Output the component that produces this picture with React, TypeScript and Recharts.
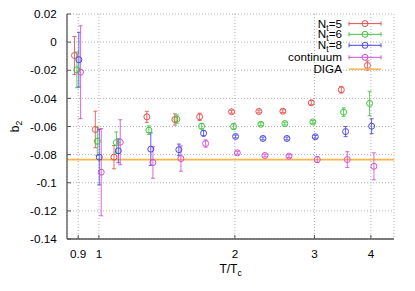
import React from 'react';
import { ComposedChart, Scatter, XAxis, YAxis, CartesianGrid, ErrorBar, ReferenceLine } from 'recharts';

// ---- data ----
const nt5T = [0.883, 0.982, 1.08, 1.277, 1.473, 1.671, 1.967, 2.26, 2.554, 2.952, 3.44, 3.93];
const nt5B2 = [-0.0095, -0.0621, -0.0818, -0.0531, -0.055, -0.0531, -0.0495, -0.0493, -0.0491, -0.0431, -0.0339, -0.0166];
const nt5Err = [0.0135, 0.013, 0.0083, 0.0039, 0.004, 0.0026, 0.001, 0.001, 0.001, 0.0015, 0.0023, 0.0033];

const nt6T = [0.894, 0.992, 1.093, 1.29, 1.488, 1.688, 1.987, 2.283, 2.58, 2.976, 3.481, 3.974];
const nt6B2 = [-0.0197, -0.0705, -0.0714, -0.0626, -0.0548, -0.0598, -0.06, -0.0584, -0.0579, -0.0567, -0.0498, -0.0436];
const nt6Err = [0.0127, 0.01, 0.0075, 0.003, 0.003, 0.002, 0.002, 0.001, 0.001, 0.001, 0.003, 0.0087];

const nt8T = [0.903, 1.002, 1.104, 1.303, 1.503, 1.705, 2.007, 2.307, 2.607, 3.013, 3.516, 4.015];
const nt8B2 = [-0.0125, -0.0818, -0.0773, -0.0761, -0.0765, -0.0648, -0.0671, -0.0685, -0.0685, -0.0673, -0.0636, -0.0598];
const nt8Err = [0.0195, 0.0197, 0.0085, 0.0116, 0.004, 0.002, 0.001, 0.001, 0.001, 0.001, 0.0036, 0.0053];

const contT = [0.911, 1.012, 1.115, 1.317, 1.519, 1.723, 2.025, 2.33, 2.634, 3.044, 3.547, 4.062];
const contB2 = [-0.0214, -0.0925, -0.0712, -0.0856, -0.0828, -0.0721, -0.0787, -0.0806, -0.0811, -0.0835, -0.0835, -0.0883];
const contErr = [0.033, 0.031, 0.016, 0.0112, 0.009, 0.0026, 0.001, 0.001, 0.001, 0.0021, 0.0056, 0.0096];

const digaValue = -0.0835;

const xTicks = [0.9, 1, 2, 3, 4];
const yTicks = [-0.14, -0.12, -0.1, -0.08, -0.06, -0.04, -0.02, 0, 0.02];
const xDomain = [0.85, 4.5];
const yDomain = [-0.14, 0.02];

// ---- styling ----
const FONT = '"Liberation Sans", Arial, Helvetica, sans-serif';
const FS = 11.7;
const RED = '#e5504f';
const GREEN = '#3fc43f';
const BLUE = '#4848e4';
const MAGENTA = '#d24fd2';
const ORANGE = '#fbb448';
const AXIS = '#555555';
const GRID = '#b0b0b0';

const build = (T: number[], b2: number[], err: number[]) => T.map((t, i) => ({ T: t, b2: b2[i], err: err[i] }));

const series = [
  { name: 'Nt=5', data: build(nt5T, nt5B2, nt5Err), color: RED },
  { name: 'Nt=6', data: build(nt6T, nt6B2, nt6Err), color: GREEN },
  { name: 'Nt=8', data: build(nt8T, nt8B2, nt8Err), color: BLUE },
  { name: 'continuum', data: build(contT, contB2, contErr), color: MAGENTA },
];

const circleShape = (color: string) => (props: any) => (
  <circle cx={props.cx} cy={props.cy} r={3} fill="none" stroke={color} strokeWidth={1} />
);

const fmtY = (v: number) => String(Number(v.toFixed(2)));
const fmtX = (v: number) => String(v);

const YLabel = (props: any) => {
  const vb = props.viewBox || { x: 0, y: 14, width: 67, height: 225 };
  const cx = 19;
  const cy = vb.y + vb.height / 2;
  return (
    <text x={cx} y={cy} transform={`rotate(-90, ${cx}, ${cy})`} textAnchor="middle" fontFamily={FONT} fontSize={12} fill="#000">
      b<tspan fontSize={8.5} dy={3}>2</tspan>
    </text>
  );
};

const XLabel = (props: any) => {
  const vb = props.viewBox || { x: 67, y: 239, width: 327, height: 52 };
  const cx = vb.x + vb.width / 2;
  return (
    <text x={cx} y={273} textAnchor="middle" fontFamily={FONT} fontSize={12} fill="#000">
      T/T<tspan fontSize={8.5} dy={3}>c</tspan>
    </text>
  );
};

const legendRows = [
  { main: 'N', sub: 't', rest: '=5', color: RED, y: 23.6, err: true },
  { main: 'N', sub: 't', rest: '=6', color: GREEN, y: 34.3, err: true },
  { main: 'N', sub: 't', rest: '=8', color: BLUE, y: 45.3, err: true },
  { main: 'continuum', sub: '', rest: '', color: MAGENTA, y: 57.3, err: true },
  { main: 'DIGA', sub: '', rest: '', color: ORANGE, y: 69.2, err: false },
];

const LegendOverlay = () => (
  <svg width={415} height={291} style={{ position: 'absolute', left: 0, top: 0, pointerEvents: 'none' }}>
    {legendRows.map((r, i) => (
      <g key={i}>
        <text x={342} y={r.y + 4} textAnchor="end" fontFamily={FONT} fontSize={FS} fill="#000">
          {r.main}
          {r.sub ? <tspan fontSize={8.5} dy={3}>{r.sub}</tspan> : null}
          {r.rest ? <tspan fontSize={FS} dy={-3}>{r.rest}</tspan> : null}
        </text>
        {r.err ? (
          <g stroke={r.color} strokeWidth={1} fill="none">
            <line x1={349} x2={381} y1={r.y} y2={r.y} />
            <line x1={349} x2={349} y1={r.y - 2} y2={r.y + 2} />
            <line x1={381} x2={381} y1={r.y - 2} y2={r.y + 2} />
            <circle cx={365} cy={r.y} r={3} />
          </g>
        ) : (
          <line x1={349} x2={381} y1={r.y} y2={r.y} stroke={r.color} strokeWidth={1.5} />
        )}
      </g>
    ))}
  </svg>
);

export default function App() {
  return (
    <div style={{ position: 'absolute', left: 0, top: 0, width: 415, height: 291, background: '#fff' }}>
      <ComposedChart width={415} height={291} margin={{ top: 14, right: 21, bottom: 0, left: 0 }}>
        <CartesianGrid stroke={GRID} strokeDasharray="1 2" strokeWidth={1} />
        <XAxis
          dataKey="T"
          type="number"
          scale="log"
          domain={xDomain}
          allowDataOverflow
          ticks={xTicks}
          tickFormatter={fmtX}
          height={52}
          tickSize={-4}
          tickMargin={15}
          stroke={AXIS}
          axisLine={{ stroke: AXIS, strokeWidth: 1.3 }}
          tickLine={{ stroke: AXIS }}
          tick={{ fill: '#000', fontFamily: FONT, fontSize: FS }}
          label={<XLabel />}
        />
        <XAxis
          xAxisId="top"
          orientation="top"
          type="number"
          scale="log"
          domain={xDomain}
          allowDataOverflow
          ticks={xTicks}
          height={0}
          tickSize={-4}
          tick={false}
          axisLine={{ stroke: AXIS, strokeWidth: 1.3 }}
          tickLine={{ stroke: AXIS }}
        />
        <YAxis
          dataKey="b2"
          type="number"
          domain={yDomain}
          allowDataOverflow
          ticks={yTicks}
          tickFormatter={fmtY}
          width={67}
          tickSize={-4}
          tickMargin={14.3}
          axisLine={{ stroke: AXIS, strokeWidth: 1.3 }}
          tickLine={{ stroke: AXIS }}
          tick={{ fill: '#000', fontFamily: FONT, fontSize: FS }}
          label={<YLabel />}
        />
        <YAxis
          yAxisId="right"
          orientation="right"
          type="number"
          domain={yDomain}
          allowDataOverflow
          ticks={yTicks}
          width={0}
          tickSize={-4}
          tick={false}
          axisLine={{ stroke: AXIS, strokeWidth: 1.3 }}
          tickLine={{ stroke: AXIS }}
        />
        <ReferenceLine y={digaValue} stroke={ORANGE} strokeWidth={1.8} ifOverflow="hidden" />
        {series.map((s) => (
          <Scatter
            key={s.name}
            name={s.name}
            data={s.data}
            dataKey="b2"
            isAnimationActive={false}
            shape={circleShape(s.color)}
          >
            <ErrorBar dataKey="err" direction="y" width={2} stroke={s.color} strokeWidth={1} strokeOpacity={0.85} />
          </Scatter>
        ))}
      </ComposedChart>
      <LegendOverlay />
    </div>
  );
}
